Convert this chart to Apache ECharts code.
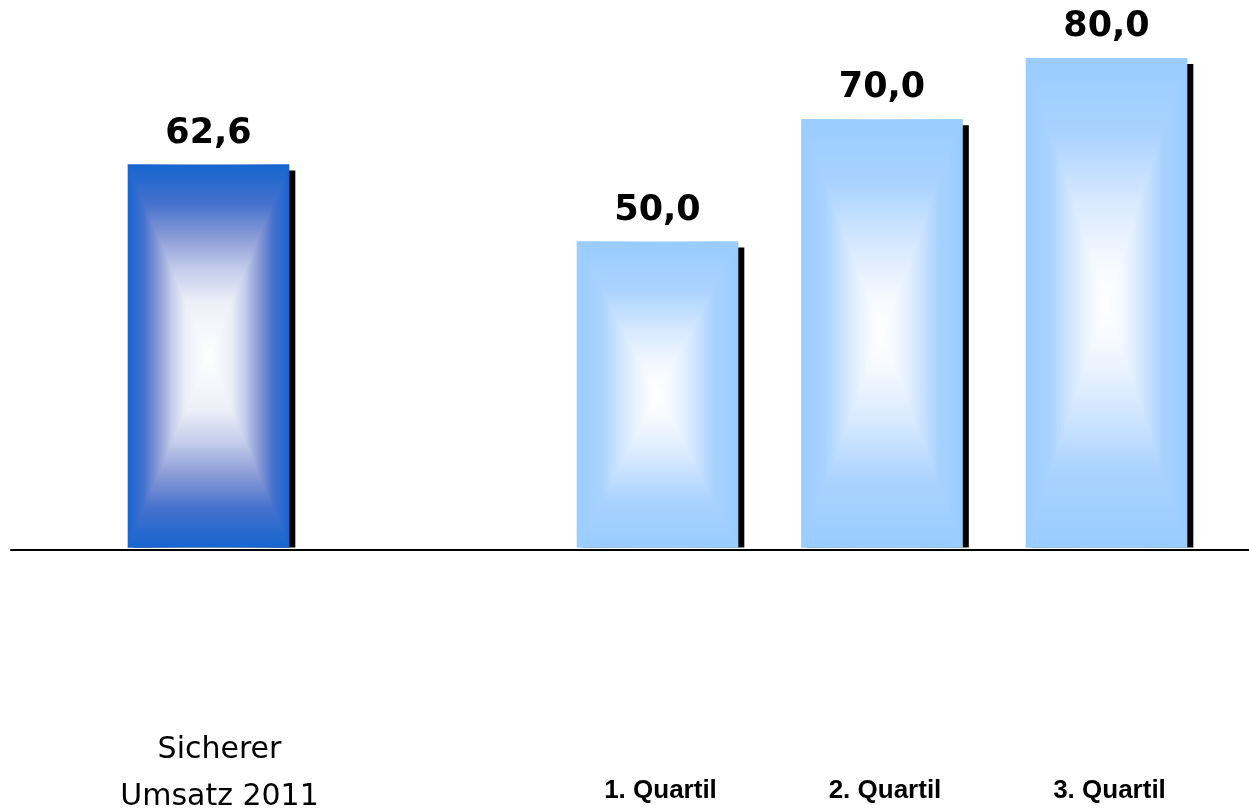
<!DOCTYPE html>
<html>
<head>
<meta charset="utf-8">
<script src="https://cdn.jsdelivr.net/npm/echarts@6/dist/echarts.min.js"></script>
<style>
html,body{margin:0;padding:0;background:#fff;}
#chart{width:1249px;height:812px;}
</style>
</head>
<body>
<div id="chart"></div>
<script>
// ---- data ----
const categories = ['Sicherer\nUmsatz 2011', '', '1. Quartil', '2. Quartil', '3. Quartil'];
const values = [62.6, null, 50.0, 70.0, 80.0];
const yMin = 0;
const yMax = 80;

// ---- styles ----
// gradient stops: t = 0 at bar edge, t = 1 at bar centre
const darkStops = [[0, '#1565D0'], [0.2, '#4471CD'], [0.38, '#8A9AD6'], [0.55, '#C4CDEB'], [0.72, '#ECEFF8'], [1, '#FFFFFF']];
const lightStops = [[0, '#99CCFF'], [0.3, '#A8D2FF'], [0.58, '#D6E8FF'], [0.82, '#F4F8FF'], [1, '#FFFFFF']];

function linear(x, y, x2, y2, stops) {
  return {type: 'linear', x: x, y: y, x2: x2, y2: y2,
    colorStops: stops.map(s => ({offset: s[0], color: s[1]}))};
}
function mirrored(stops) {
  const left = stops.map(s => [s[0] * 0.5, s[1]]);
  const right = stops.slice(0, -1).reverse().map(s => [1 - s[0] * 0.5, s[1]]);
  return left.concat(right);
}
function fmt(v) { return v.toFixed(1).replace('.', ','); }

const chart = echarts.init(document.getElementById('chart'), null, {renderer: 'canvas'});

const seriesData = values.map((v, i) => [i, v]).filter(d => d[1] != null);

const option = {
  animation: false,
  backgroundColor: '#ffffff',
  grid: [
    {left: 96.25, right: 30.25, top: 58, bottom: 264},
    {left: 11, right: 0, top: 58, bottom: 262}
  ],
  xAxis: [
    {
      type: 'category', gridIndex: 0, data: categories,
      axisLine: {show: false}, axisTick: {show: false}, splitLine: {show: false},
      axisLabel: {
        interval: 0, margin: 226, verticalAlign: 'middle', color: '#000',
        formatter: function (val, idx) {
          if (!val) return '';
          return idx === 0 ? '{a|' + val.split('\n').join('}\n{a|') + '}' : '{b|' + val + '}';
        },
        rich: {
          a: {fontFamily: 'DejaVu Sans', fontSize: 30, lineHeight: 47, color: '#000', padding: [0, 0, 0, 22]},
          b: {fontFamily: 'Liberation Sans', fontWeight: 'bold', fontSize: 26, lineHeight: 30, color: '#000', padding: [34, 0, 0, 6]}
        }
      }
    },
    {
      type: 'value', gridIndex: 1, min: 0, max: 1,
      axisLine: {show: true, onZero: false, lineStyle: {color: '#000', width: 2}},
      axisTick: {show: false}, axisLabel: {show: false}, splitLine: {show: false}
    }
  ],
  yAxis: [
    {type: 'value', gridIndex: 0, min: yMin, max: yMax, show: false, splitLine: {show: false}},
    {type: 'value', gridIndex: 1, min: 0, max: 1, show: false, splitLine: {show: false}}
  ],
  series: [{
    type: 'custom',
    xAxisIndex: 0, yAxisIndex: 0,
    data: seriesData,
    clip: false,
    renderItem: function (params, api) {
      const idx = api.value(0);
      const val = api.value(1);
      const top = api.coord([idx, val]);
      const base = api.coord([idx, 0]);
      const w = api.size([1, 0])[0] * 0.72;
      const cx = top[0];
      const x0 = cx - w / 2, x1 = cx + w / 2;
      const y0 = top[1], y1 = base[1];
      const cy = (y0 + y1) / 2;
      const stops = idx === 0 ? darkStops : lightStops;
      const sh = 6;
      return {
        type: 'group',
        children: [
          {type: 'rect', shape: {x: x0 + sh, y: y0 + sh, width: w, height: y1 - y0 - sh}, style: {fill: '#000'}},
          {type: 'rect', shape: {x: x0, y: y0, width: w, height: y1 - y0}, style: {fill: linear(0, 0, 1, 0, mirrored(stops))}},
          {type: 'polygon', shape: {points: [[x0, y0], [x1, y0], [cx, cy]]}, style: {fill: linear(0, 0, 0, 1, stops)}},
          {type: 'polygon', shape: {points: [[x0, y1], [x1, y1], [cx, cy]]}, style: {fill: linear(0, 1, 0, 0, stops)}},
          {type: 'text', style: {text: fmt(val), x: cx, y: y0 - 31, align: 'center', verticalAlign: 'middle',
            fontFamily: 'DejaVu Sans', fontWeight: 'bold', fontSize: 35, fill: '#000'}}
        ]
      };
    }
  }]
};
chart.setOption(option);
</script>
</body>
</html>
